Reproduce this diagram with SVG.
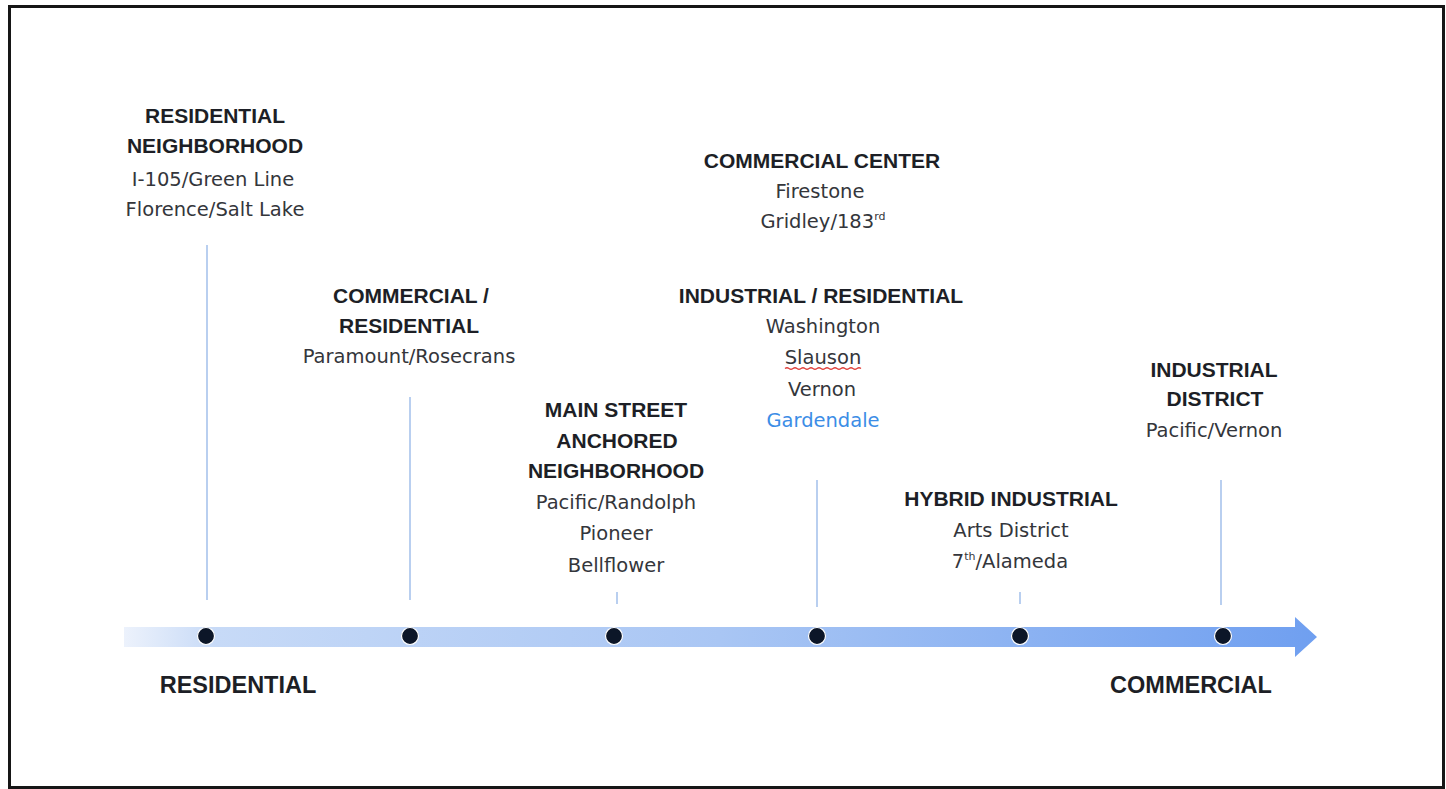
<svg xmlns="http://www.w3.org/2000/svg" width="1446" height="789" viewBox="0 0 1446 789">
  <style>
    .h { font-family: "Liberation Sans", Arial, sans-serif; font-weight: bold; font-size: 21px; fill: #1d1f26; text-anchor: middle; }
    .s { font-family: "DejaVu Sans", "Liberation Sans", sans-serif; font-size: 19.5px; fill: #34363b; text-anchor: middle; }
    .axis { font-family: "Liberation Sans", Arial, sans-serif; font-weight: bold; font-size: 23.5px; fill: #1d1f26; text-anchor: middle; }
    .stem { stroke: #a8c3ec; stroke-width: 1.6; fill: none; }
    .dot { fill: #0c1628; stroke: #ffffff; stroke-width: 1.2; }
    .sup { font-size: 11px; }
  </style>
  <defs>
    <linearGradient id="band" x1="120" y1="0" x2="1320" y2="0" gradientUnits="userSpaceOnUse">
      <stop offset="0" stop-color="#eef3fc"/>
      <stop offset="0.08" stop-color="#c7daf7"/>
      <stop offset="0.5" stop-color="#a9c6f4"/>
      <stop offset="1" stop-color="#6f9ff0"/>
    </linearGradient>
  </defs>

  <rect x="0" y="0" width="1446" height="789" fill="#ffffff"/>
  <!-- frame -->
  <rect x="9.5" y="6.5" width="1434" height="781" fill="none" stroke="#161616" stroke-width="3"/>

  <!-- connectors: axis arrow and stems -->
  <g id="connectors">
    <path d="M124 627 L1295 627 L1295 617 L1317 637 L1295 657 L1295 647 L124 647 Z" fill="url(#band)"/>
    <line class="stem" x1="207" y1="245" x2="207" y2="600"/>
    <line class="stem" x1="410" y1="397" x2="410" y2="600"/>
    <line class="stem" x1="617" y1="592" x2="617" y2="604"/>
    <line class="stem" x1="817" y1="480" x2="817" y2="607"/>
    <line class="stem" x1="1020" y1="592" x2="1020" y2="604"/>
    <line class="stem" x1="1221" y1="480" x2="1221" y2="605"/>
    <circle class="dot" cx="206" cy="636" r="8.5"/>
    <circle class="dot" cx="410" cy="636" r="8.5"/>
    <circle class="dot" cx="614" cy="636" r="8.5"/>
    <circle class="dot" cx="817" cy="636" r="8.5"/>
    <circle class="dot" cx="1020" cy="636" r="8.5"/>
    <circle class="dot" cx="1223" cy="636" r="8.5"/>
  </g>

  <g id="residential-neighborhood">
    <text class="h" x="215" y="123">RESIDENTIAL</text>
    <text class="h" x="215" y="153">NEIGHBORHOOD</text>
    <text class="s" x="213" y="186">I-105/Green Line</text>
    <text class="s" x="215" y="216">Florence/Salt Lake</text>
  </g>

  <g id="commercial-residential">
    <text class="h" x="411" y="303">COMMERCIAL /</text>
    <text class="h" x="409" y="333">RESIDENTIAL</text>
    <text class="s" x="409" y="363">Paramount/Rosecrans</text>
  </g>

  <g id="main-street">
    <text class="h" x="616" y="417">MAIN STREET</text>
    <text class="h" x="617" y="448">ANCHORED</text>
    <text class="h" x="616" y="478">NEIGHBORHOOD</text>
    <text class="s" x="616" y="509">Pacific/Randolph</text>
    <text class="s" x="616" y="540">Pioneer</text>
    <text class="s" x="616" y="572">Bellflower</text>
  </g>

  <g id="commercial-center">
    <text class="h" x="822" y="168">COMMERCIAL CENTER</text>
    <text class="s" x="820" y="198">Firestone</text>
    <text class="s" x="823" y="228">Gridley/183<tspan class="sup" dy="-8">rd</tspan></text>
  </g>

  <g id="industrial-residential">
    <text class="h" x="821" y="303">INDUSTRIAL / RESIDENTIAL</text>
    <text class="s" x="823" y="333">Washington</text>
    <text class="s" x="823" y="364">Slauson</text>
    <path d="M785 368.5 q2 -1.5 4 0 t4 0 t4 0 t4 0 t4 0 t4 0 t4 0 t4 0 t4 0 t4 0 t4 0 t4 0 t4 0 t4 0 t4 0 t4 0 t4 0 t4 0 t4 0" fill="none" stroke="#e0443f" stroke-width="1.3"/>
    <text class="s" x="822" y="396">Vernon</text>
    <text class="s" x="823" y="427" style="fill:#3b8de6">Gardendale</text>
  </g>

  <g id="hybrid-industrial">
    <text class="h" x="1011" y="506">HYBRID INDUSTRIAL</text>
    <text class="s" x="1011" y="537">Arts District</text>
    <text class="s" x="1010" y="568">7<tspan class="sup" dy="-8">th</tspan><tspan dy="8">/Alameda</tspan></text>
  </g>

  <g id="industrial-district">
    <text class="h" x="1214" y="377">INDUSTRIAL</text>
    <text class="h" x="1215" y="406">DISTRICT</text>
    <text class="s" x="1214" y="437">Pacific/Vernon</text>
  </g>

  <g id="axis-labels">
    <text class="axis" x="238" y="693">RESIDENTIAL</text>
    <text class="axis" x="1191" y="693">COMMERCIAL</text>
  </g>
</svg>
